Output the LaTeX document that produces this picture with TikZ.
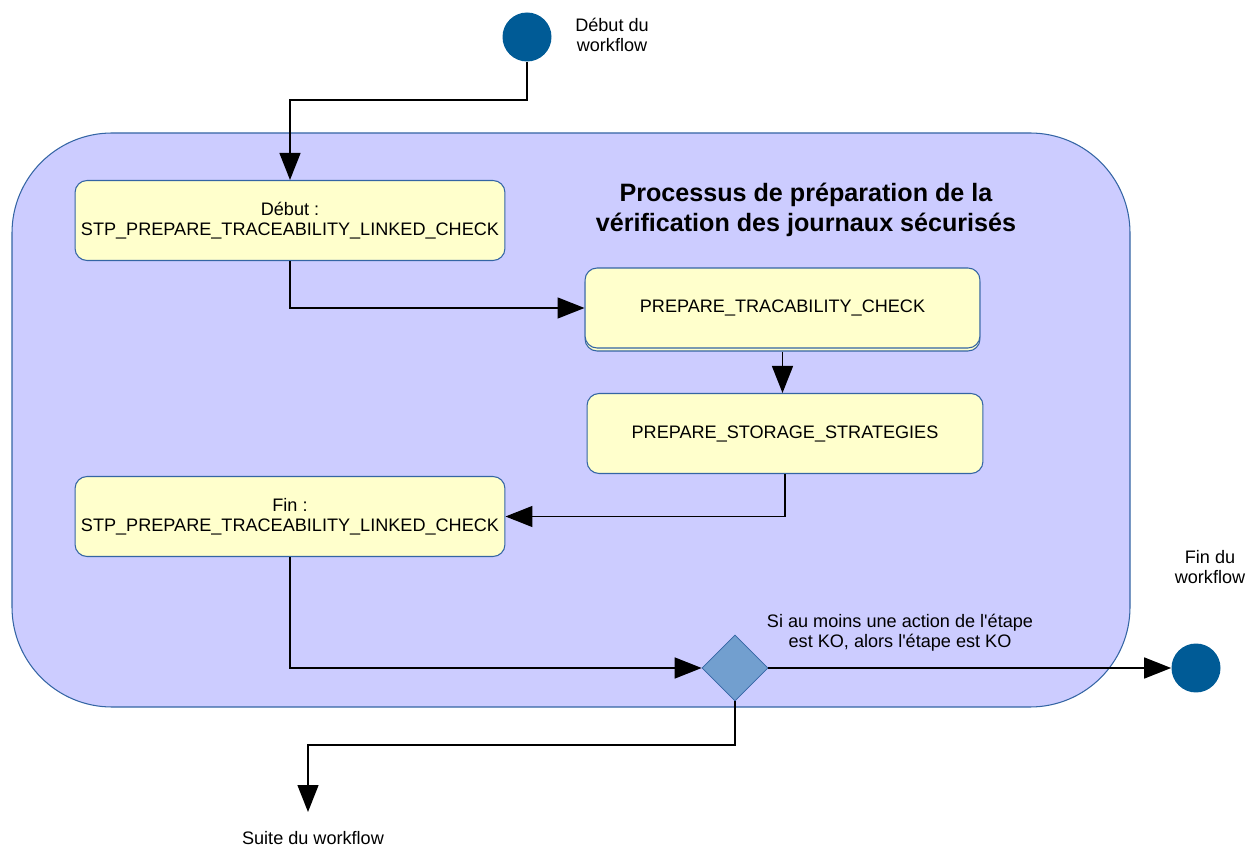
\documentclass[tikz,border=0pt]{standalone}
\usepackage{fontspec}
\setmainfont{Liberation Sans}
\usetikzlibrary{arrows.meta,shapes.geometric}
\definecolor{lavande}{HTML}{CCCCFF}
\definecolor{bordbleu}{HTML}{3465A4}
\definecolor{jaune}{HTML}{FFFFCC}
\definecolor{bleunuit}{HTML}{005B96}
\definecolor{losange}{HTML}{729FCF}
\begin{document}
\begin{tikzpicture}[x=0.02cm,y=-0.02cm,
    font=\fontsize{10.3}{11.5}\selectfont,
    etape/.style={draw=bordbleu,fill=jaune,rounded corners=0.24cm,
      minimum height=1.6cm,align=center,line width=0.6pt},
    etat/.style={circle,fill=bleunuit,minimum size=0.98cm,inner sep=0pt},
    flux/.style={-{Triangle[length=0.54cm,width=0.42cm]},line width=0.8pt}]
      \useasboundingbox (0,0) rectangle (1248,847);
      \draw[bordbleu,fill=lavande,rounded corners=2cm,line width=0.6pt]
       (12,133) rectangle (1130,707);
      \node[etat] (debut) at (527,37) {};
      \node[align=center] (lbldebut) at (612,35) {Début du\\workflow};
      \node[etape,minimum width=8.6cm] (stpdebut) at (290,220.5)
       {Début :\\STP\_PREPARE\_TRACEABILITY\_LINKED\_CHECK};
      \node[font=\bfseries\fontsize{14.3}{17}\selectfont,align=center] (titre) at (806,210)
       {Processus de préparation de la\\vérification des journaux sécurisés};
      \node[etape,minimum width=7.9cm] (ombre) at (782.5,311) {};
      \node[etape,minimum width=7.9cm] (tracab) at (782.5,308) {PREPARE\_TRACABILITY\_CHECK};
      \node[etape,minimum width=7.92cm] (storage) at (785,433.5) {PREPARE\_STORAGE\_STRATEGIES};
      \node[etape,minimum width=8.6cm] (stpfin) at (290,516.5)
       {Fin :\\STP\_PREPARE\_TRACEABILITY\_LINKED\_CHECK};
      \node[diamond,draw=bordbleu,fill=losange,minimum size=1.32cm,inner sep=0pt] (choix) at (735,668) {};
      \node[align=center] (lblchoix) at (900,633)
       {Si au moins une action de l\textquotesingle étape\\est KO, alors l\textquotesingle étape est KO};
      \node[etat] (fin) at (1196,668) {};
      \node[align=center] (lblfin) at (1210,567) {Fin du\\workflow};
      \coordinate (coude1) at (527,100);
      \coordinate (coude2) at (735,745);
      \coordinate (suite) at (308,812);
      \node (lblsuite) at (313,838) {Suite du workflow};
      \draw[flux] (debut) -- (coude1) -| (stpdebut.north);
      \draw[flux] (stpdebut.south) |- (tracab.west);
      \draw[flux] (ombre.south) -- (ombre.south |- storage.north);
      \draw[flux] (storage.south) |- (stpfin.east);
      \draw[flux] (stpfin.south) |- (choix.west);
      \draw[flux] (choix.east) -- (fin.west);
      \draw[flux] (choix.south) -- (coude2) -| (suite);
    \end{tikzpicture}
\end{document}
